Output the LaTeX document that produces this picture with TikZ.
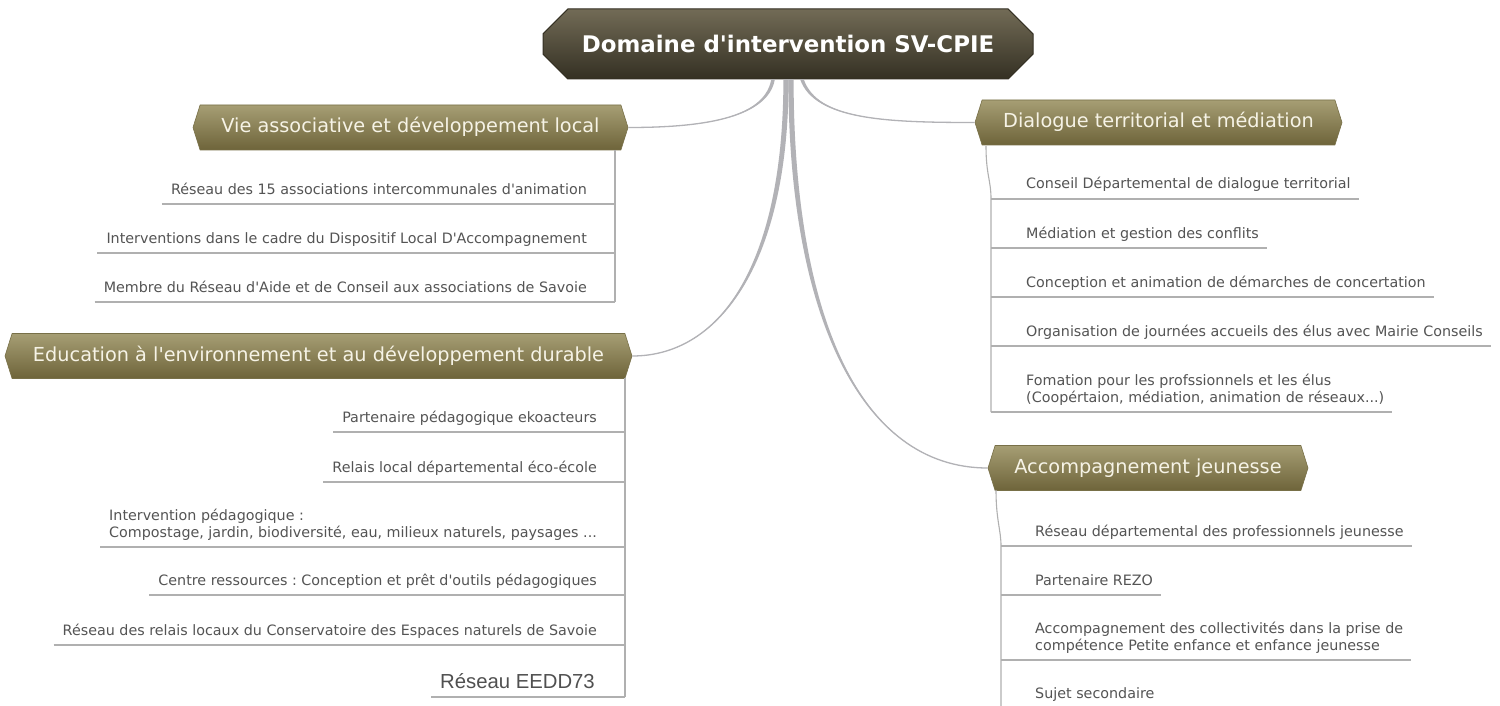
\documentclass[tikz,border=0pt]{standalone}
\usepackage{fontspec}
\setmainfont{DejaVu Sans}[Ligatures=TeXOff]
\newfontfamily\arialf{Liberation Sans}[Ligatures=TeXOff]
\usetikzlibrary{shapes.misc,shapes.symbols,calc}
\frenchspacing
\definecolor{leaftext}{RGB}{84,84,84}
\definecolor{eeddtext}{RGB}{80,80,80}
\definecolor{leafcol}{RGB}{176,176,176}
\definecolor{conncol}{RGB}{178,178,182}
\definecolor{brtop}{RGB}{166,158,116}
\definecolor{brbot}{RGB}{110,100,58}
\definecolor{brdraw}{RGB}{120,112,72}
\definecolor{ctop}{RGB}{114,107,86}
\definecolor{cbot}{RGB}{52,48,35}
\definecolor{titletext}{RGB}{246,243,230}
\newcommand\taperconn[5]{%
  \fill[conn] ($#1+(-#5,0)$) .. controls ($#2+(-#5,0)$) and #3 .. #4
     .. controls #3 and ($#2+(#5,0)$) .. ($#1+(#5,0)$) -- cycle;
  \draw[connline] #1 .. controls #2 and #3 .. #4;}
\begin{document}
\begin{tikzpicture}[x=1pt,y=-1pt,
  central/.style={chamfered rectangle, chamfered rectangle xsep=12pt, chamfered rectangle ysep=16pt,
    top color=ctop, bottom color=cbot, draw=cbot, line width=1pt,
    minimum width=490pt, minimum height=70pt, text=white,
    font=\fontsize{22.9}{26}\selectfont\bfseries, inner sep=0pt},
  branch/.style={signal, signal to=west and east, signal pointer angle=145,
    top color=brtop, bottom color=brbot, draw=brdraw, line width=0.6pt,
    minimum height=45pt, text=titletext, text height=14pt, text depth=4pt,
    font=\fontsize{19.3}{23}\selectfont, inner sep=0pt},
  leaf/.style={inner sep=0pt, text=leaftext, font=\fontsize{14.3}{17}\selectfont},
  leafline/.style={draw=leafcol, line width=1.1pt},
  conn/.style={fill=conncol},
  connline/.style={draw=conncol, line width=1.3pt},
]
\useasboundingbox[fill=white] (0,0) rectangle (1500,706);

% central node and branches
\node[central] (center) at (788,44) {Domaine d'intervention SV-CPIE};
\node[branch, minimum width=435pt] (vie) at (410.5,127.5) {Vie associative et développement local};
\node[branch, minimum width=627pt] (edu) at (318.5,356) {Education à l'environnement et au développement durable};
\node[branch, minimum width=367pt] (dia) at (1158.5,122.5) {Dialogue territorial et médiation};
\node[branch, minimum width=320pt] (acc) at (1148,468) {Accompagnement jeunesse};

% connectors from the centre
\taperconn{($(center.south)+(-15,0)$)}{($(center.south)+(-22,40)$)}{($(vie.east)+(70,0)$)}{(vie.east)}{1.8}
\taperconn{($(center.south)+(-2,0)$)}{($(center.south)+(-2,180)$)}{($(edu.east)+(90,0)$)}{(edu.east)}{2.6}
\taperconn{($(center.south)+(3,0)$)}{($(center.south)+(3,230)$)}{($(acc.west)+(-130,0)$)}{(acc.west)}{2.6}
\taperconn{($(center.south)+(14,0)$)}{($(center.south)+(28,40)$)}{($(dia.west)+(-90,0)$)}{(dia.west)}{1.8}

% Vie associative
\coordinate (vieT) at (615,150);
\coordinate (vieB) at (615,302);
\draw[leafline] (vieT) -- (vieB);
\node[leaf, anchor=base east] (v1) at (587,194) {Réseau des 15 associations intercommunales d'animation};
\node[leaf, anchor=base east] (v2) at (587,243) {Interventions dans le cadre du Dispositif Local D'Accompagnement};
\node[leaf, anchor=base east] (v3) at (587,292) {Membre du Réseau d'Aide et de Conseil aux associations de Savoie};
\foreach \n in {v1,v2,v3}
  \draw[leafline] ($(\n.base west)+(-9,10)$) -- ($(\n.base east)+(28,10)$);

% Education
\coordinate (eduT) at (625,378);
\coordinate (eduB) at (625,697);
\draw[leafline] (eduT) -- (eduB);
\node[leaf, anchor=base east] (e1) at (597,422) {Partenaire pédagogique ekoacteurs};
\node[leaf, anchor=base east] (e2) at (597,472) {Relais local départemental éco-école};
\node[leaf, anchor=base east, align=left] (e3) at (597,537) {Intervention pédagogique :\\Compostage, jardin, biodiversité, eau, milieux naturels, paysages ...};
\node[leaf, anchor=base east] (e4) at (597,585) {Centre ressources : Conception et prêt d'outils pédagogiques};
\node[leaf, anchor=base east] (e5) at (597,635) {Réseau des relais locaux du Conservatoire des Espaces naturels de Savoie};
\node[leaf, anchor=base east, font=\arialf\fontsize{20.3}{23}\selectfont, text=eeddtext] (e6) at (595,688) {Réseau EEDD73};
\foreach \n in {e1,e2,e3,e4,e5}
  \draw[leafline] ($(\n.base west)+(-9,10)$) -- ($(\n.base east)+(28,10)$);
\draw[leafline] ($(e6.base west)+(-9,9)$) -- ($(e6.base east)+(30,9)$);

% Dialogue territorial
\coordinate (diaT) at (986,146);
\coordinate (diaB) at (991,412);
\draw[leafline] (diaT) .. controls (986,175) and (991,180) .. (991,199) -- (diaB);
\node[leaf, anchor=base west] (d1) at (1026,189) {Conseil Départemental de dialogue territorial};
\node[leaf, anchor=base west] (d2) at (1026,238) {Médiation et gestion des conflits};
\node[leaf, anchor=base west] (d3) at (1026,287) {Conception et animation de démarches de concertation};
\node[leaf, anchor=base west] (d4) at (1026,336) {Organisation de journées accueils des élus avec Mairie Conseils};
\node[leaf, anchor=base west, align=left] (d5) at (1026,402) {Fomation pour les profssionnels et les élus\\(Coopértaion, médiation, animation de réseaux...)};
\foreach \n in {d1,d2,d3,d4,d5}
  \draw[leafline] ($(\n.base west)+(-35,10)$) -- ($(\n.base east)+(8,10)$);

% Accompagnement jeunesse
\coordinate (accT) at (996,490);
\coordinate (accB) at (1001,706);
\draw[leafline] (accT) .. controls (996,520) and (1001,530) .. (1001,546) -- (accB);
\node[leaf, anchor=base west] (a1) at (1035,536) {Réseau départemental des professionnels jeunesse};
\node[leaf, anchor=base west] (a2) at (1035,585) {Partenaire REZO};
\node[leaf, anchor=base west, align=left] (a3) at (1035,650) {Accompagnement des collectivités dans la prise de\\compétence Petite enfance et enfance jeunesse};
\node[leaf, anchor=base west] (a4) at (1035,698) {Sujet secondaire};
\foreach \n in {a1,a2,a3}
  \draw[leafline] ($(\n.base west)+(-34,10)$) -- ($(\n.base east)+(8,10)$);
\end{tikzpicture}
\end{document}
